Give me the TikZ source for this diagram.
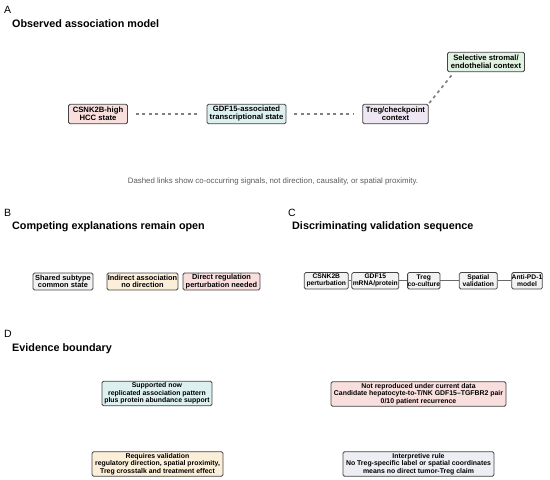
\documentclass[tikz,border=0pt]{standalone}
\usepackage{fontspec}
\setmainfont{Liberation Sans}
\definecolor{boxline}{HTML}{444444}
\definecolor{fpink}{HTML}{F9DEDE}
\definecolor{fcyan}{HTML}{DDF0F0}
\definecolor{flav}{HTML}{EEE6F2}
\definecolor{fgreen}{HTML}{E2F2E2}
\definecolor{fbeige}{HTML}{FCEFDA}
\definecolor{fgray}{HTML}{F2F2F2}
\definecolor{fblue}{HTML}{EDEEF3}
\definecolor{linkgray}{HTML}{808080}
\definecolor{capgray}{HTML}{5A5A5A}
\tikzset{
  bx/.style={draw=boxline, line width=0.8pt, rounded corners=1.5pt, inner sep=0pt, align=center},
  abox/.style={bx, minimum height=19.5pt, font=\fontsize{7.7}{8}\selectfont\bfseries},
  bbox/.style={bx, minimum height=17pt, font=\fontsize{7.4}{7.6}\selectfont\bfseries},
  cbox/.style={bx, minimum height=16.5pt, font=\fontsize{6.7}{6.9}\selectfont\bfseries},
  dbox/.style={bx, minimum height=24.5pt, font=\fontsize{6.9}{7.3}\selectfont\bfseries},
  plabel/.style={anchor=base west, inner sep=0pt, font=\fontsize{10.5}{12}\selectfont},
  ptitle/.style={anchor=base west, inner sep=0pt, font=\fontsize{10.8}{12}\selectfont\bfseries},
  link/.style={draw=linkgray, line width=1.7pt, dash pattern=on 3pt off 3.5pt},
  seq/.style={draw=boxline!80, line width=0.7pt},
}
\begin{document}
\begin{tikzpicture}[x=1pt,y=-1pt]
\useasboundingbox (0,0) rectangle (550,480);
% Panel A
\node[plabel] (la) at (4,13) {A};
\node[ptitle] (ta) at (12,27) {Observed association model};
\node[abox, fill=fpink, minimum width=59pt] (csnk) at (98,114) {CSNK2B-high\\HCC state};
\node[abox, fill=fcyan, minimum width=79pt] (gdf) at (246.5,114) {GDF15-associated\\transcriptional state};
\node[abox, fill=flav, minimum width=65.5pt] (treg) at (395.5,114) {Treg/checkpoint\\context};
\node[abox, fill=fgreen, minimum width=77pt] (sel) at (486,62) {Selective stromal/\\endothelial context};
\draw[link, shorten <=8pt, shorten >=8pt] (csnk) -- (gdf);
\draw[link, shorten <=8pt, shorten >=8pt] (gdf) -- (treg);
\draw[link, shorten <=1pt, shorten >=2pt] (treg.north east) -- ([xshift=7pt]sel.south west);
\node[anchor=base, inner sep=0pt, text=capgray, font=\fontsize{7.85}{9}\selectfont] (cap) at (273,183.5) {Dashed links show co-occurring signals, not direction, causality, or spatial proximity.};
% Panel B
\node[plabel] (lb) at (4,216) {B};
\node[ptitle] (tb) at (12,229) {Competing explanations remain open};
\node[bbox, fill=fgray, minimum width=60pt] (b1) at (63,281.5) {Shared subtype\\common state};
\node[bbox, fill=fbeige, minimum width=71pt] (b2) at (142.5,281.5) {Indirect association\\no direction};
\node[bbox, fill=fpink, minimum width=77pt] (b3) at (221.5,281.5) {Direct regulation\\perturbation needed};
% Panel C
\node[plabel] (lc) at (288,216) {C};
\node[ptitle] (tc) at (292,229) {Discriminating validation sequence};
\node[cbox, fill=fgray, minimum width=44pt] (c1) at (326.3,280.8) {CSNK2B\\perturbation};
\node[cbox, fill=fgray, minimum width=47pt] (c2) at (375.3,280.8) {GDF15\\mRNA/protein};
\node[cbox, fill=fgray, minimum width=29pt] (c3) at (423.8,280.8) {Treg\\co-culture};
\node[cbox, fill=fgray, minimum width=38pt] (c4) at (478.3,280.8) {Spatial\\validation};
\node[cbox, fill=fgray, minimum width=29.5pt] (c5) at (527,280.8) {Anti-PD-1\\model};
\draw[seq] (c1) -- (c2);
\draw[seq] (c2) -- (c3);
\draw[seq] (c3) -- (c4);
\draw[seq] (c4) -- (c5);
% Panel D
\node[plabel] (ld) at (4,337) {D};
\node[ptitle] (td) at (12,351) {Evidence boundary};
\node[dbox, fill=fcyan, minimum width=110pt] (d1) at (157,393.5) {Supported now\\replicated association pattern\\plus protein abundance support};
\node[dbox, fill=fpink, minimum width=175pt] (d2) at (418.5,394) {Not reproduced under current data\\Candidate hepatocyte-to-T/NK GDF15–TGFBR2 pair\\0/10 patient recurrence};
\node[dbox, fill=fbeige, minimum width=131pt] (d3) at (157.5,464) {Requires validation\\regulatory direction, spatial proximity,\\Treg crosstalk and treatment effect};
\node[dbox, fill=fblue, minimum width=151pt] (d4) at (418.5,464) {Interpretive rule\\No Treg-specific label or spatial coordinates\\means no direct tumor-Treg claim};
\end{tikzpicture}
\end{document}
